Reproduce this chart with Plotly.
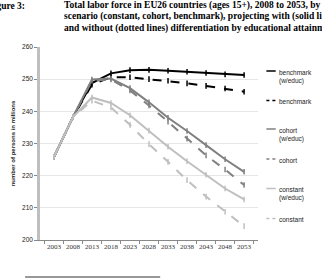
import plotly.graph_objects as go

years = ["2003", "2008", "2013", "2018", "2023", "2028", "2033", "2038", "2043", "2048", "2053"]

benchmark_we = [225.8, 238.2, 248.8, 251.8, 252.8, 252.9, 252.6, 252.3, 251.9, 251.5, 251.3]
benchmark = [225.8, 238.2, 248.3, 250.6, 250.6, 250.0, 249.5, 248.7, 247.9, 247.1, 246.1]
cohort_we = [225.8, 238.2, 249.9, 250.2, 247.2, 242.8, 238.0, 233.9, 229.5, 225.1, 221.2]
cohort = [225.8, 238.2, 249.5, 249.9, 246.5, 241.8, 236.8, 231.5, 226.3, 221.9, 217.1]
constant_we = [225.8, 238.2, 244.3, 242.6, 238.8, 234.0, 229.0, 224.5, 220.3, 216.0, 212.6]
constant = [225.8, 238.2, 243.3, 241.2, 235.8, 229.8, 224.3, 218.6, 213.5, 208.8, 204.3]

names = ["benchmark<br>(w/educ)", "benchmark", "cohort<br>(w/educ)", "cohort", "constant<br>(w/educ)", "constant"]
series = [benchmark_we, benchmark, cohort_we, cohort, constant_we, constant]
colors = ["#000000", "#000000", "#808080", "#808080", "#bfbfbf", "#bfbfbf"]
dashes = ["solid", "dash", "solid", "dash", "solid", "dash"]

title_label = "Figure 3:"
title_lines = [
    "Total labor force in EU26 countries (ages 15+), 2008 to 2053, by",
    "scenario (constant, cohort, benchmark), projecting with (solid lines",
    "and without (dotted lines) differentiation by educational attainment",
]

W, H = 322, 279
L, R, T, B = 24, 64, 47, 39
PW, PH = W - L - R, H - T - B


def px(x):
    return (x - L) / PW


def py(y):
    return (H - B - y) / PH


fig = go.Figure()
for name, vals, c, d in zip(names, series, colors, dashes):
    fig.add_trace(go.Scatter(
        x=years, y=vals, mode="lines+markers", name=name,
        line=dict(color=c, width=2, dash=d),
        marker=dict(symbol="line-ns", size=4, line=dict(color=c, width=1.5)),
        showlegend=False,
    ))

annotations = []
shapes = []
title_font = dict(family="Liberation Serif", size=9.5, color="black")
for i, t in enumerate(title_lines):
    annotations.append(dict(text="<b>" + t + "</b>", xref="paper", yref="paper", x=px(47.5), y=py(5.3 + 11.6 * i),
                            xanchor="left", yanchor="middle", showarrow=False, font=title_font))

# legend (drawn beside the plot)
leg_y = [71, 100.5, 129, 159, 188.5, 218.5]
for name, c, d, ly in zip(names, colors, dashes, leg_y):
    shapes.append(dict(type="line", xref="paper", yref="paper", x0=px(267), x1=px(277), y0=py(ly), y1=py(ly),
                       line=dict(color=c, width=1.5, dash="dot" if d == "dash" else "solid")))
    annotations.append(dict(text=name, xref="paper", yref="paper", x=px(278), y=py(ly - 4.5),
                            xanchor="left", yanchor="top", align="left", showarrow=False,
                            font=dict(family="Liberation Sans", size=6.5, color="#222222")))

# footnote separator
shapes.append(dict(type="line", xref="paper", yref="paper", x0=px(8), x1=px(153), y0=py(277), y1=py(277),
                   line=dict(color="#333333", width=1)))

fig.update_layout(
    width=W, height=H,
    margin=dict(l=L, r=R, t=T, b=B),
    paper_bgcolor="white", plot_bgcolor="white",
    title=dict(text="<b>" + title_label + "</b>", xref="container", yref="container",
               x=25 / W, xanchor="right", y=1 - 5.3 / H, yanchor="middle", font=title_font,
               pad=dict(l=0, r=0, t=0, b=0)),
    annotations=annotations, shapes=shapes,
    xaxis=dict(type="category", tickson="boundaries", ticks="outside", ticklen=3, tickcolor="#888888",
               showline=True, linecolor="#888888", linewidth=1, showgrid=False,
               tickfont=dict(family="Liberation Serif", size=7, color="#333333"), tickangle=0),
    yaxis=dict(range=[200, 260], dtick=10, ticks="outside", ticklen=3, tickcolor="#888888",
               showline=True, linecolor="#bfbfbf", linewidth=2.5,
               showgrid=True, gridcolor="#e6e6e6", gridwidth=1, zeroline=False,
               tickfont=dict(family="Liberation Sans", size=6.5, color="#222222"),
               title=dict(text="<b>number of persons in millions</b>", standoff=6,
                          font=dict(family="Liberation Sans", size=6, color="#222222"))),
)

fig.write_html("out.html")
